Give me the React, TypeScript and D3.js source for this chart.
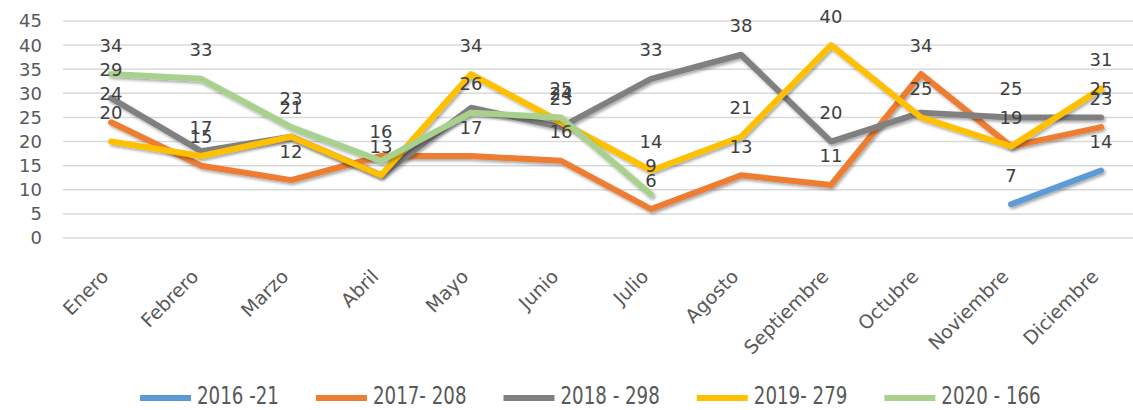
import React, { useRef, useEffect } from "react";
import * as d3 from "d3";

const months = ["Enero", "Febrero", "Marzo", "Abril", "Mayo", "Junio", "Julio", "Agosto", "Septiembre", "Octubre", "Noviembre", "Diciembre"];
const yTicks = [0, 5, 10, 15, 20, 25, 30, 35, 40, 45];

const v2016 = [null, null, null, null, null, null, null, null, null, null, 7, 14];
const v2017 = [24, 15, 12, 17, 17, 16, 6, 13, 11, 34, 19, 23];
const v2018 = [29, 18, 21, 13, 27, 23, 33, 38, 20, 26, 25, 25];
const v2019 = [20, 17, 21, 13, 34, 24, 14, 21, 40, 25, 19, 31];
const v2020 = [34, 33, 23, 16, 26, 25, 9, null, null, null, null, null];

// data labels that are visible in the original (null = no label)
const lab2016 = [null, null, null, null, null, null, null, null, null, null, 7, 14];
const lab2017 = [24, 15, 12, null, 17, 16, 6, 13, 11, 34, null, 23];
const lab2018 = [29, null, null, null, null, 23, 33, 38, 20, null, 25, 25];
const lab2019 = [20, 17, 21, 13, 34, 24, 14, 21, 40, 25, 19, 31];
const lab2020 = [34, 33, 23, 16, 26, 25, 9, null, null, null, null, null];

const seriesNames = ["2016 -21", "2017- 208", "2018 - 298", "2019- 279", "2020 - 166"];
const seriesColors = ["#5B9BD5", "#ED7D31", "#808080", "#FFC000", "#A9D18E"];

const App = () => {
  const svgRef = useRef<SVGSVGElement>(null);

  useEffect(() => {
    const svg = d3.select(svgRef.current);
    svg.selectAll("*").remove();

    const width = 1133;
    const values = [v2016, v2017, v2018, v2019, v2020];
    const labels = [lab2016, lab2017, lab2018, lab2019, lab2020];

    const x = d3.scaleBand<string>().domain(months).range([66, 1146]);
    const y = d3.scaleLinear().domain([0, 45]).range([238, 21]);
    const cx = (m: string) => (x(m) as number) + x.bandwidth() / 2;

    const defs = svg.append("defs");
    defs
      .append("filter")
      .attr("id", "shadow")
      .attr("x", "-10%")
      .attr("y", "-20%")
      .attr("width", "120%")
      .attr("height", "140%")
      .append("feDropShadow")
      .attr("dx", 1.5)
      .attr("dy", 2)
      .attr("stdDeviation", 1.5)
      .attr("flood-color", "#000")
      .attr("flood-opacity", 0.35);

    // gridlines
    svg
      .append("g")
      .selectAll("line")
      .data(yTicks)
      .enter()
      .append("line")
      .attr("x1", 63)
      .attr("x2", width)
      .attr("y1", (d) => y(d))
      .attr("y2", (d) => y(d))
      .attr("stroke", "#D9D9D9")
      .attr("stroke-width", 1.5);

    // y tick labels
    svg
      .append("g")
      .selectAll("text")
      .data(yTicks)
      .enter()
      .append("text")
      .attr("x", 42)
      .attr("y", (d) => y(d))
      .attr("dy", "0.36em")
      .attr("text-anchor", "end")
      .style("font-family", "DejaVu Sans")
      .style("font-size", "18px")
      .attr("fill", "#595959")
      .text((d) => d);

    // x labels, rotated 45deg
    svg
      .append("g")
      .selectAll("text")
      .data(months)
      .enter()
      .append("text")
      .attr("transform", (d) => `translate(${cx(d) - 6},${273}) rotate(-45)`)
      .attr("dy", "0.35em")
      .attr("text-anchor", "end")
      .style("font-family", "DejaVu Sans")
      .style("font-size", "19px")
      .attr("fill", "#595959")
      .text((d) => d);

    // lines
    const line = d3
      .line<number | null>()
      .defined((d) => d !== null)
      .x((_, i) => cx(months[i]))
      .y((d) => y(d as number));

    svg
      .append("g")
      .selectAll("path")
      .data(values)
      .enter()
      .append("path")
      .attr("d", (d) => line(d))
      .attr("fill", "none")
      .attr("stroke", (_, i) => seriesColors[i])
      .attr("stroke-width", 6)
      .attr("stroke-linejoin", "round")
      .attr("stroke-linecap", "round")
      .attr("filter", "url(#shadow)");

    // data labels (sit ~29px above each point)
    const labelData: { m: string; v: number; t: number }[] = [];
    labels.forEach((arr, s) => {
      arr.forEach((t, i) => {
        if (t !== null && values[s][i] !== null) {
          labelData.push({ m: months[i], v: values[s][i] as number, t });
        }
      });
    });
    svg
      .append("g")
      .selectAll("text")
      .data(labelData)
      .enter()
      .append("text")
      .attr("x", (d) => cx(d.m))
      .attr("y", (d) => y(d.v) - 29)
      .attr("dy", "0.36em")
      .attr("text-anchor", "middle")
      .style("font-family", "DejaVu Sans")
      .style("font-size", "18px")
      .attr("fill", "#404040")
      .text((d) => d.t);

    // legend
    const legend = svg.append("g");
    let lx = 140;
    seriesNames.forEach((name, i) => {
      legend
        .append("line")
        .attr("x1", lx)
        .attr("x2", lx + 51)
        .attr("y1", 398)
        .attr("y2", 398)
        .attr("stroke", seriesColors[i])
        .attr("stroke-width", 6);
      const t = legend
        .append("text")
        .attr("transform", `translate(${lx + 57},404) scale(0.76,1)`)
        .style("font-family", "DejaVu Sans")
        .style("font-size", "24px")
        .attr("fill", "#595959")
        .text(name);
      const w = (t.node() as SVGTextElement).getComputedTextLength() * 0.76;
      lx += 57 + w + 37;
    });
  }, []);

  return (
    <svg
      ref={svgRef}
      width={1133}
      height={410}
      style={{ position: "absolute", left: 0, top: 0, background: "#fff" }}
    ></svg>
  );
};

export default App;
